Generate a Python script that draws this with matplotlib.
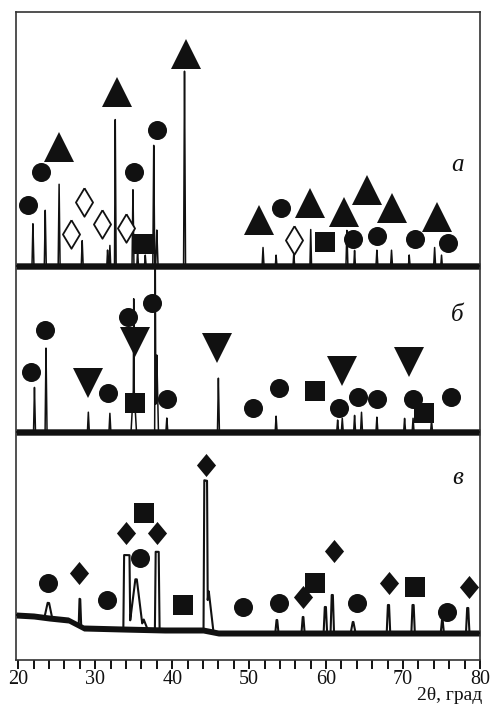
import numpy as np
import matplotlib
matplotlib.use('Agg')
import matplotlib.pyplot as plt
from matplotlib.ticker import MultipleLocator, FuncFormatter

# ---------------- data (2θ in degrees, intensity in arbitrary units) ----------------
# pattern "а"
a_pos = [21.9, 23.5, 25.3, 28.3, 31.6, 31.9, 32.6, 34.9, 35.5, 36.5, 37.6, 38.0, 41.6,
         51.8, 53.5, 55.8, 58.0, 62.7, 63.7, 66.6, 68.5, 70.8, 74.1, 75.0]
a_int = [43, 56, 83, 26, 16, 21, 148, 78, 16, 11, 123, 36, 198,
         19, 11, 13, 37, 36, 16, 16, 16, 11, 19, 11]
a_wid = [0.12, 0.12, 0.12, 0.12, 0.1, 0.1, 0.1, 0.12, 0.1, 0.1, 0.12, 0.15, 0.12,
         0.12, 0.1, 0.1, 0.1, 0.12, 0.1, 0.12, 0.12, 0.1, 0.12, 0.1]
a_top = [0.0] * len(a_pos)

# pattern "б"
b_pos = [22.1, 23.6, 29.1, 31.9, 35.0, 35.0, 37.8, 38.0, 39.3, 46.0,
         53.5, 61.5, 62.1, 63.7, 64.6, 66.6, 70.2, 71.3, 73.7]
b_int = [45, 84, 20, 19, 137, 49, 172, 77, 14, 54,
         16, 12, 14, 17, 20, 15, 14, 14, 12]
b_wid = [0.12, 0.12, 0.12, 0.12, 0.08, 0.35, 0.08, 0.2, 0.12, 0.12,
         0.12, 0.12, 0.12, 0.12, 0.12, 0.12, 0.12, 0.12, 0.12]
b_top = [0.0] * len(b_pos)

# pattern "в"
c_pos = [23.9, 28.0, 34.1, 35.3, 36.3, 38.05, 44.35, 44.75,
         53.6, 57.0, 59.9, 60.8, 63.5, 68.1, 71.3, 75.1, 78.4]
c_int = [15, 27, 74, 50, 10, 78, 150, 40,
         13, 16, 26, 38, 11, 28, 28, 13, 25]
c_wid = [0.5, 0.15, 0.45, 0.9, 0.5, 0.3, 0.28, 0.6,
         0.2, 0.2, 0.22, 0.22, 0.3, 0.22, 0.22, 0.2, 0.22]
c_top = [0.1, 0.05, 0.35, 0.1, 0.0, 0.2, 0.18, 0.0,
         0.05, 0.05, 0.08, 0.08, 0.05, 0.08, 0.08, 0.05, 0.08]
c_bg_pos = [19.7, 22, 24, 26.5, 28.5, 33.5, 39, 44, 46, 80]
c_bg_int = [18, 17, 15, 13, 5, 4, 3, 3, 0, 0]

# phase markers: (2θ, height above the pattern baseline)
a_circle_x = [21.26, 22.95, 35.03, 38.01, 54.11, 63.46, 66.58, 71.51, 75.80]
a_circle_y = [61, 94, 94, 136, 58, 27, 30, 27, 23]
a_tri_x = [25.29, 32.83, 41.79, 51.26, 57.86, 62.28, 65.27, 68.52, 74.36]
a_tri_y = [119, 174, 212, 46, 63, 54, 76, 58, 49]
a_odiam_x = [26.84, 28.53, 30.87, 33.99, 55.80]
a_odiam_y = [32, 64, 42, 38, 26]
a_square_x = [36.32, 59.83]
a_square_y = [22, 24]

b_circle_x = [21.65, 23.47, 31.65, 34.25, 37.36, 39.31, 50.48, 53.86, 61.65, 64.12, 66.58, 71.26, 76.19]
b_circle_y = [60, 102, 39, 115, 129, 33, 24, 44, 24, 35, 33, 33, 35]
b_vtri_x = [29.05, 35.16, 45.81, 62.03, 70.73]
b_vtri_y = [49, 90, 84, 61, 70]
b_square_x = [35.19, 58.55, 72.72]
b_square_y = [29, 41, 19]

c_circle_x = [23.86, 31.53, 35.81, 49.16, 53.83, 63.96, 75.65]
c_circle_y = [50, 33, 75, 26, 30, 30, 21]
c_diam_x = [27.88, 33.99, 38.01, 44.38, 56.97, 61.00, 68.14, 78.53]
c_diam_y = [60, 100, 100, 168, 36, 82, 50, 46]
c_square_x = [36.32, 41.38, 58.55, 71.51]
c_square_y = [120, 28, 50, 46]

panel_labels = ['а', 'б', 'в']
x_label = '2θ, град'

# ---------------- layout / style ----------------
W, H = 492, 705
fig = plt.figure(figsize=(W / 100, H / 100), dpi=100)
ax = fig.add_axes([16 / W, 1 - 660 / H, (480 - 16) / W, (660 - 12) / H])
ax.set_xlim(19.7, 80)
ax.set_ylim(0, 648)

ink = '#111111'
off_a, off_b, off_c = 394, 228, 27

x = np.linspace(19.7, 80, 9000)


def peaks(xg, pos, inten, wid, top):
    prof = np.zeros_like(xg)
    for p, h, w, t in zip(pos, inten, wid, top):
        shape = np.clip((w - np.abs(xg - p)) / (w - t), 0, 1)
        prof = np.maximum(prof, h * shape)
    return prof


bg_a = np.full_like(x, off_a)
bg_b = np.full_like(x, off_b)
bg_c = off_c + np.interp(x, c_bg_pos, c_bg_int)

for bg, pos, inten, wid, top, band, lw in [
        (bg_a, a_pos, a_int, a_wid, a_top, 3.2, 1.1),
        (bg_b, b_pos, b_int, b_wid, b_top, 3.2, 1.1),
        (bg_c, c_pos, c_int, c_wid, c_top, 3.0, 1.5)]:
    y = bg + peaks(x, pos, inten, wid, top)
    ax.fill_between(x, bg - band, bg + band, color=ink, lw=0, zorder=2)
    ax.plot(x, y, color=ink, lw=lw, zorder=3)

# markers
tall_diam = [(0, 1), (0.6, 0), (0, -1), (-0.6, 0), (0, 1)]
fat_diam = [(0, 1), (0.83, 0), (0, -1), (-0.83, 0), (0, 1)]
mk = dict(ls='none', zorder=5)

ax.plot(a_circle_x, np.array(a_circle_y) + off_a, marker='o', ms=13.7, color=ink, mew=0, **mk)
ax.plot(a_tri_x, np.array(a_tri_y) + off_a, marker='^', ms=21.6, color=ink, mew=0, **mk)
ax.plot(a_odiam_x, np.array(a_odiam_y) + off_a, marker=tall_diam, ms=20.5, mfc='white',
        mec=ink, mew=1.3, **mk)
ax.plot(a_square_x, np.array(a_square_y) + off_a, marker='s', ms=14.4, color=ink, mew=0, **mk)

ax.plot(b_circle_x, np.array(b_circle_y) + off_b, marker='o', ms=13.7, color=ink, mew=0, **mk)
ax.plot(b_vtri_x, np.array(b_vtri_y) + off_b, marker='v', ms=21.0, color=ink, mew=0, **mk)
ax.plot(b_square_x, np.array(b_square_y) + off_b, marker='s', ms=14.4, color=ink, mew=0, **mk)

ax.plot(c_circle_x, np.array(c_circle_y) + off_c, marker='o', ms=13.7, color=ink, mew=0, **mk)
ax.plot(c_diam_x, np.array(c_diam_y) + off_c, marker=fat_diam, ms=16.6, color=ink, mew=0, **mk)
ax.plot(c_square_x, np.array(c_square_y) + off_c, marker='s', ms=14.4, color=ink, mew=0, **mk)

# panel labels
for lab, yy in zip(panel_labels, [off_a + 101, off_b + 117, off_c + 155]):
    ax.text(77.1, yy, lab, fontsize=18, style='italic', family='Liberation Serif',
            ha='center', va='center', color=ink, zorder=6)

# axes styling
for s in ax.spines.values():
    s.set_color('#333333')
    s.set_linewidth(1.2)
ax.set_yticks([])
ax.xaxis.set_major_locator(MultipleLocator(2))
ax.xaxis.set_major_formatter(FuncFormatter(lambda v, p: f'{v:.0f}' if round(v) % 10 == 0 else ''))
ax.tick_params(axis='x', direction='out', length=6.5, width=1.4, color=ink, pad=1,
               labelsize=14.5, labelcolor=ink)
for t in ax.get_xticklabels():
    t.set_family('Liberation Serif')

fig.text(482 / W, 1 - 704 / H, x_label, ha='right', va='bottom', fontsize=14,
         family='Liberation Serif', color=ink)

fig.savefig('out.png', dpi=100)
